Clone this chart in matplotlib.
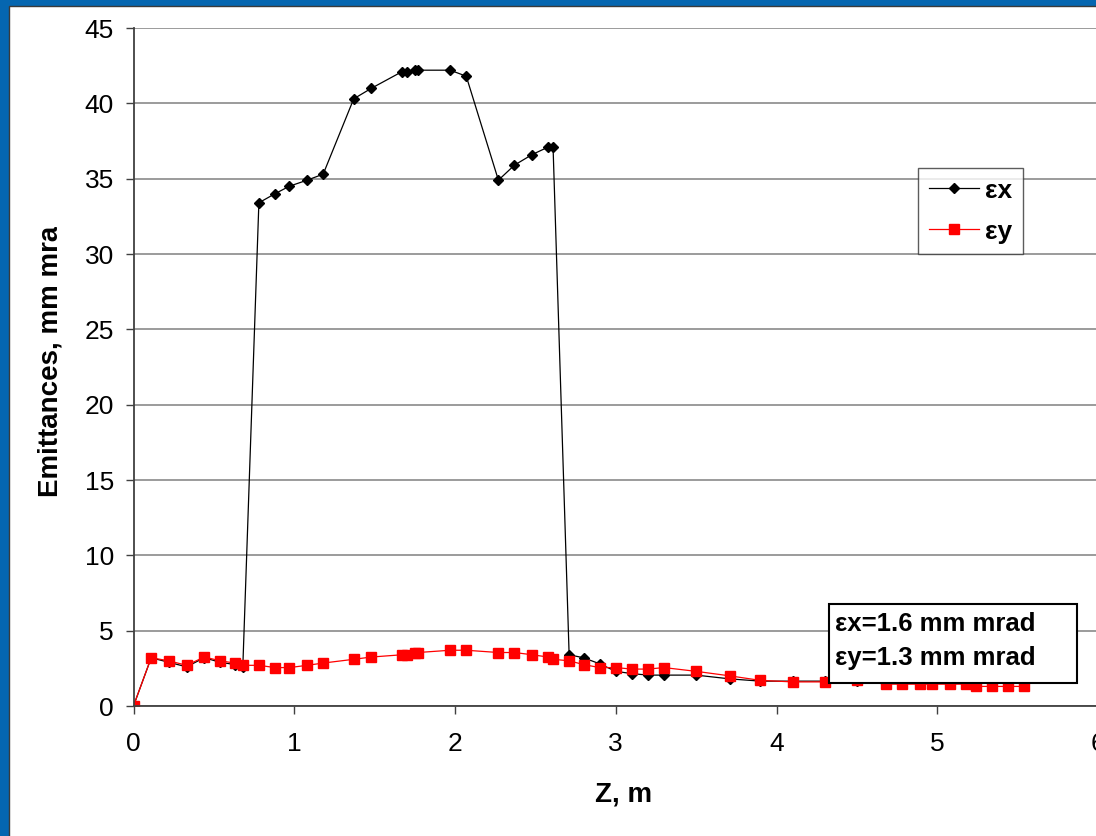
import matplotlib
matplotlib.use("Agg")
import matplotlib.pyplot as plt
from matplotlib.patches import Rectangle
from matplotlib.transforms import Bbox

plt.rcParams['font.family'] = ['Liberation Sans', 'DejaVu Sans']

# ---- data ----
z_m = [0, 0.11, 0.22, 0.33, 0.44, 0.54, 0.63, 0.68,
       0.78, 0.88, 0.97, 1.08, 1.18,
       1.37, 1.48,
       1.67, 1.70, 1.75, 1.77,
       1.97, 2.07,
       2.27, 2.37, 2.48, 2.58, 2.61,
       2.71, 2.80, 2.90, 3.00, 3.10, 3.20, 3.30,
       3.50, 3.71, 3.90, 4.10, 4.30, 4.50,
       4.68, 4.78, 4.89, 4.97, 5.08, 5.18, 5.24, 5.34, 5.44, 5.54]

eps_x = [0, 3.2, 2.9, 2.6, 3.2, 2.9, 2.75, 2.6,
         33.4, 34.0, 34.5, 34.9, 35.3,
         40.3, 41.0,
         42.1, 42.1, 42.2, 42.2,
         42.2, 41.8,
         34.9, 35.9, 36.6, 37.1, 37.1,
         3.4, 3.2, 2.8, 2.3, 2.15, 2.05, 2.05,
         2.05, 1.8, 1.65, 1.65, 1.65, 1.65,
         1.65, 1.65, 1.65, 1.65, 1.65, 1.65, 1.65, 1.65, 1.65, 1.65]

eps_y = [0, 3.2, 3.0, 2.7, 3.25, 3.0, 2.85, 2.7,
         2.7, 2.55, 2.55, 2.7, 2.85,
         3.1, 3.25,
         3.4, 3.4, 3.55, 3.55,
         3.7, 3.7,
         3.55, 3.55, 3.4, 3.25, 3.1,
         3.0, 2.75, 2.55, 2.55, 2.45, 2.45, 2.55,
         2.3, 2.0, 1.7, 1.6, 1.6, 1.7,
         1.45, 1.45, 1.45, 1.45, 1.45, 1.45, 1.3, 1.3, 1.3, 1.3]

series_labels = ['εx', 'εy']
x_ticks = [0, 1, 2, 3, 4, 5, 6]
y_ticks = [0, 5, 10, 15, 20, 25, 30, 35, 40, 45]
note_lines = ['εx=1.6 mm mrad', 'εy=1.3 mm mrad']
x_label = 'Z, m'
y_label = 'Emittances, mm mrad'

# ---- figure ----
W, H = 1096, 836
fig = plt.figure(figsize=(W / 100, H / 100), dpi=100)
fig.patch.set_facecolor('#0566B0')
# white panel with dark inner edge
panel = Rectangle((8.5 / W, -0.01), 1.1, (H - 5.5) / H + 0.01,
                  transform=fig.transFigure, facecolor='white',
                  edgecolor='#3a3a3a', linewidth=1.0, zorder=-10)
fig.patches.append(panel)

left, right_px, top_px, bottom_px = 133.5, 1098, 28, 706
ax = fig.add_axes([left / W, (H - bottom_px) / H, (right_px - left) / W,
                   (bottom_px - top_px) / H])
ax.set_facecolor('white')

ax.plot(z_m, eps_x, color='black', lw=0.9, marker='D', ms=5.4,
        mfc='black', mec='black', label=series_labels[0], zorder=3)
ax.plot(z_m, eps_y, color='#FF0000', lw=0.9, marker='s', ms=6.5,
        mfc='#FF0000', mec='#FF0000', label=series_labels[1], zorder=4)

ax.set_xlim(0, 6)
ax.set_ylim(0, 45)
ax.set_xticks(x_ticks)
ax.set_yticks(y_ticks)
ax.grid(axis='y', color='#808080', lw=1.1, zorder=1)
ax.set_axisbelow(True)
for s in ['top', 'right']:
    ax.spines[s].set_visible(False)
for s in ['left', 'bottom']:
    ax.spines[s].set_color('#404040')
    ax.spines[s].set_linewidth(1.3)
    ax.spines[s].set_zorder(5)
ax.tick_params(axis='y', direction='out', length=6, width=1, color='#404040',
               labelsize=19, pad=8)
ax.tick_params(axis='x', direction='out', length=6, width=1, color='#404040',
               labelsize=19, pad=13)

ax.set_xlabel(x_label, fontsize=20, fontweight='bold')
ax.xaxis.set_label_coords((624 - left) / (right_px - left),
                          (bottom_px - 782) / (bottom_px - top_px))

# y label, clipped at top like the original
yl = fig.text(51 / W, (H - 497) / H, y_label, rotation=90, ha='center',
              va='bottom', fontsize=20, fontweight='bold')
yl.set_clip_box(Bbox.from_extents(0, 0, 200, H - 227))
yl.set_clip_on(True)

leg = ax.legend(loc='upper left',
                bbox_to_anchor=((918 - left) / (right_px - left),
                                (bottom_px - 168) / (bottom_px - top_px)),
                borderaxespad=0, prop={'weight': 'bold', 'size': 19},
                frameon=True, fancybox=False, edgecolor='#333333',
                handlelength=1.9, handletextpad=0.25, labelspacing=0.65,
                borderpad=0.4)
leg.get_frame().set_linewidth(1.0)
leg.set_zorder(10)

# note box
bx0 = (829 - left) / (right_px - left)
bx1 = (1077 - left) / (right_px - left)
by0 = (bottom_px - 683) / (bottom_px - top_px)
by1 = (bottom_px - 604) / (bottom_px - top_px)
ax.add_patch(Rectangle((bx0, by0), bx1 - bx0, by1 - by0, transform=ax.transAxes,
                       facecolor='white', edgecolor='black', lw=1.5,
                       zorder=8, clip_on=False))
for i, line in enumerate(note_lines):
    yc = (bottom_px - (624 + 34 * i)) / (bottom_px - top_px)
    ax.text((835 - left) / (right_px - left), yc, line, transform=ax.transAxes,
            ha='left', va='center', fontsize=18.5, fontweight='bold', zorder=9)

fig.savefig('out.png', dpi=100, facecolor=fig.get_facecolor())
